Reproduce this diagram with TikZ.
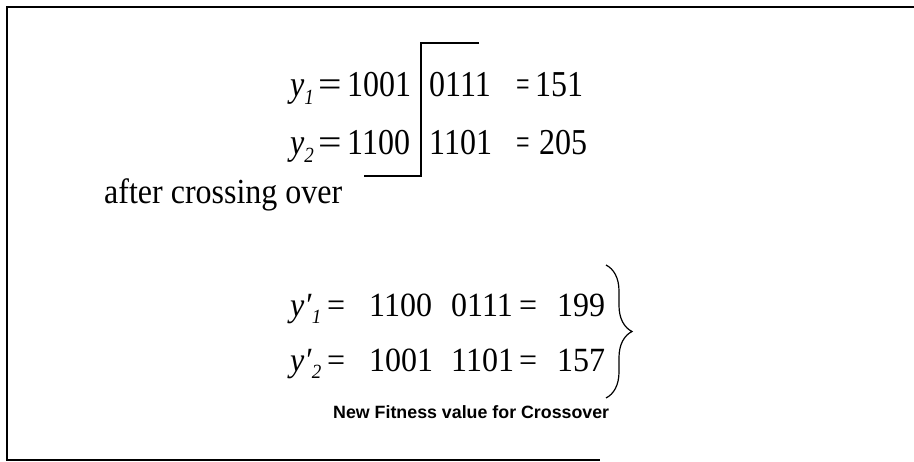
\documentclass[tikz,border=0pt]{standalone}
\usepackage{fontspec}
\usepackage{graphicx}
\setmainfont{Liberation Serif}
\newfontfamily\labelsans{Liberation Sans}
\usetikzlibrary{decorations.pathreplacing}
\newcommand{\tallrow}[1]{\scalebox{1}[1.14]{#1}}
\newcommand{\lowrow}[1]{\scalebox{1}[1.06]{#1}}
\newcommand{\sub}[1]{\raisebox{-0.2em}{\fontsize{19}{20}\selectfont\textit{#1}}}
\tikzset{
  frame/.style={line width=2.6pt, black},
  cutline/.style={line width=1.4pt, black},
  seg/.style={inner sep=0pt, anchor=base west, font=\fontsize{32}{36}\selectfont},
  caption/.style={inner sep=0pt, anchor=base west, font=\labelsans\bfseries\fontsize{17.8}{20}\selectfont},
  bracegroup/.style={line width=1.2pt, decorate, decoration={brace, amplitude=26pt, aspect=0.5}}
}
\begin{document}
\begin{tikzpicture}[x=1pt,y=-1pt]
\useasboundingbox (0,0) rectangle (914,462);
% frame (open on the right)
\coordinate (ftr) at (914,7);
\coordinate (ftl) at (7,7);
\coordinate (fbl) at (7,460);
\coordinate (fbr) at (600,460);
\draw[frame] (ftr) -- (ftl) -- (fbl) -- (fbr);

% parents
\node[seg] (ya)  at (290,97) {\tallrow{\textit{y}\sub{1}}};
\node[seg] (yaq) at (318,97) {\tallrow{\scalebox{1.3}[1]{=}}};
\node[seg] (ya1) at (347,97) {\tallrow{1001}};
\node[seg] (ya2) at (429,97) {\tallrow{0111}};
\node[seg] (yae) at (516,97) {\tallrow{\scalebox{0.75}[1]{=}}};
\node[seg] (yav) at (535,97) {\tallrow{151}};

\node[seg] (yb)  at (290,155) {\tallrow{\textit{y}\sub{2}}};
\node[seg] (ybq) at (318,155) {\tallrow{\scalebox{1.3}[1]{=}}};
\node[seg] (yb1) at (347,155) {\tallrow{1100}};
\node[seg] (yb2) at (429,155) {\tallrow{1101}};
\node[seg] (ybe) at (516,155) {\tallrow{\scalebox{0.75}[1]{=}}};
\node[seg] (ybv) at (539,155) {\tallrow{205}};

% crossover cut
\coordinate (cta) at (479,43);
\coordinate (ctb) at (421,43);
\coordinate (cbb) at (421,176);
\coordinate (cba) at (364,176);
\draw[cutline] (cta) -- (ctb) -- (cbb) -- (cba);

\node[seg] (after) at (104,204) {\scalebox{1}[1.1]{after crossing over}};

% offspring
\node[seg] (za)  at (290,317) {\lowrow{\textit{y′}\sub{1}}};
\node[seg] (zaq) at (327,317) {\lowrow{=}};
\node[seg] (za1) at (369,317) {\lowrow{1100}};
\node[seg] (za2) at (451,317) {\lowrow{0111}};
\node[seg] (zae) at (519,317) {\lowrow{=}};
\node[seg] (zav) at (557,317) {\lowrow{199}};

\node[seg] (zb)  at (290,372) {\lowrow{\textit{y′}\sub{2}}};
\node[seg] (zbq) at (327,372) {\lowrow{=}};
\node[seg] (zb1) at (369,372) {\lowrow{1001}};
\node[seg] (zb2) at (451,372) {\lowrow{1101}};
\node[seg] (zbe) at (519,372) {\lowrow{=}};
\node[seg] (zbv) at (557,372) {\lowrow{157}};

\coordinate (brt) at (606,265);
\coordinate (brb) at (606,398);
\draw[bracegroup] (brt) -- (brb);

\node[caption] (cap) at (333,419) {New Fitness value for Crossover};
\end{tikzpicture}
\end{document}
